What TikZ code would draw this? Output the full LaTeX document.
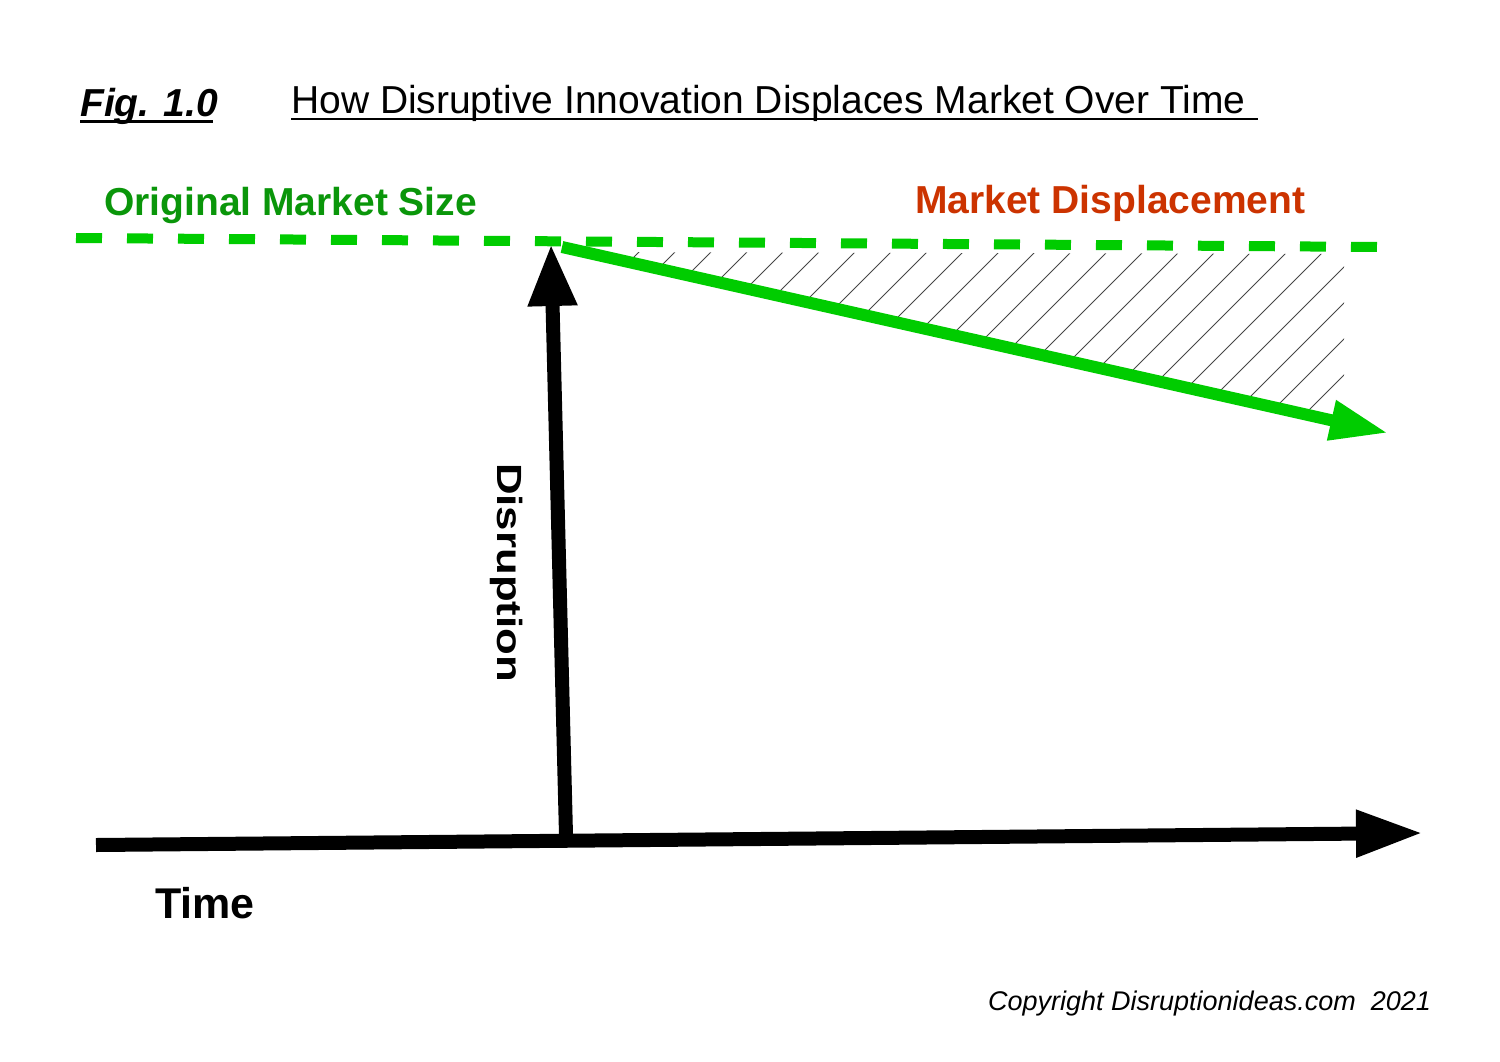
\documentclass[tikz,border=0pt]{standalone}
\usepackage{fontspec}
\setmainfont{Liberation Sans}
\usetikzlibrary{arrows.meta}
\definecolor{brightgreen}{RGB}{0,204,0}
\definecolor{textgreen}{RGB}{10,150,10}
\definecolor{textred}{RGB}{204,51,0}
\definecolor{hatchgray}{RGB}{70,70,70}
\tikzset{
  lbl/.style={inner sep=0pt, anchor=base west},
  blackarrow/.style={line width=14pt, black, -{Triangle[length=#1]}},
  greenarrow/.style={line width=12pt, brightgreen, -{Triangle[length=58pt,width=38pt]}},
  marketline/.style={line width=10pt, brightgreen, dash pattern=on 26pt off 25pt},
  hatchline/.style={line width=1pt, hatchgray}
}
\newcommand{\fs}[1]{\fontsize{#1}{#1}\selectfont}
\begin{document}
\begin{tikzpicture}[x=1pt,y=-1pt]
\useasboundingbox (0,0) rectangle (1500,1061);
\fill[white] (0,0) rectangle (1500,1061);

% titles
\node[lbl] (fig) at (80,116) {\fs{39}\bfseries\itshape Fig. 1.0};
\draw[line width=3pt] (80,121.5) -- (213,121.5);
\node[lbl] (title) at (291,113) {\fs{39}How Disruptive Innovation Displaces Market Over Time};
\draw[line width=2pt] (291,119) -- (1258,119);

% hatched displacement area
\begin{scope}
  \clip (562,252) -- (1344,254) -- (1344,420) -- (562,247) -- cycle;
  \foreach \k in {-20,...,10} {
    \pgfmathsetmacro{\c}{1467+36*\k}
    \draw[hatchline] (\c-200,200) -- (\c-460,460);
  }
\end{scope}

% coordinates
\coordinate (m0) at (76,238);
\coordinate (m1) at (1384,247);
\coordinate (g0) at (562,247);
\coordinate (g1) at (1388,433);
\coordinate (v0) at (566,835);
\coordinate (v1) at (551,244);
\coordinate (h0) at (96,845);
\coordinate (h1) at (1423,833);

% original market size line
\draw[marketline] (m0) -- (m1);
% displacement arrow
\draw[greenarrow] (g0) -- (g1);
% time axis
\draw[blackarrow=67pt, -{Triangle[length=67pt,width=44pt]}] (h0) -- (h1);
% disruption arrow
\draw[blackarrow=62pt, -{Triangle[length=62pt,width=46pt]}] (v0) -- (v1);

% labels
\node[lbl, text=textgreen] (oms) at (104,215) {\fs{39}\bfseries Original Market Size};
\node[lbl, text=textred] (md) at (915,213) {\fs{39}\bfseries Market Displacement};
\node[lbl, rotate=-90] (dis) at (497,463) {\scalebox{1.25}[1]{\fs{35}\bfseries Disruption}};
\node[lbl] (time) at (155,918) {\fs{43}\bfseries Time};
\node[lbl] (copy) at (988,1010) {\fs{27}\itshape Copyright Disruptionideas.com\ \ 2021};
\end{tikzpicture}
\end{document}
